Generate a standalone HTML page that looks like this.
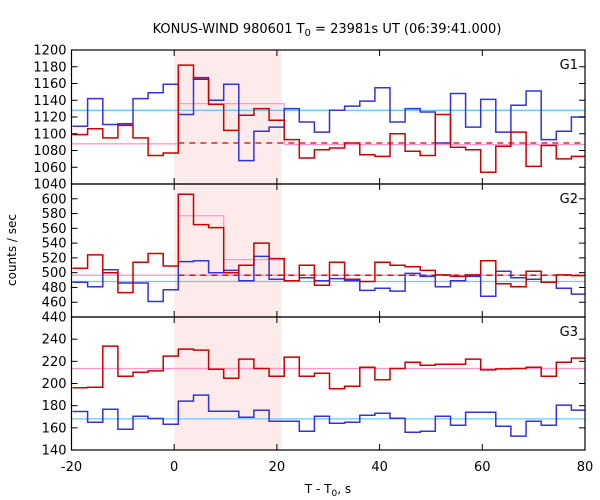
<!DOCTYPE html>
<html><head><meta charset="utf-8"><style>
body{margin:0;background:#fff;}
svg{display:block;font-family:"DejaVu Sans","Liberation Sans",sans-serif;}
</style></head><body>
<svg id="chart" width="600" height="500" viewBox="0 0 600 500" xmlns="http://www.w3.org/2000/svg">
<text x="327" y="33" text-anchor="middle" font-size="13">KONUS-WIND 980601 T<tspan font-size="10" dy="3">0</tspan><tspan dy="-3"> = 23981s UT (06:39:41.000)</tspan></text>
<text transform="translate(16,250) rotate(-90)" text-anchor="middle" font-size="12">counts / sec</text>
<text x="328" y="493" text-anchor="middle" font-size="12">T - T<tspan font-size="9" dy="3">0</tspan><tspan dy="-3">, s</tspan></text>
<g id="plot"></g>
</svg>
<script>
const xTicks=[-20,0,20,40,60,80];
const binStart=-19.8, binWidth=2.944;
const g1Blue=[1109,1142,1111,1112,1142,1149,1159,1123,1167,1140,1159,1068,1103,1108,1130,1114,1102,1128,1133,1139,1155,1114,1130,1126,1089,1148,1108,1141,1102,1134,1151,1093,1103,1120];
const g1Red=[1099,1106,1095,1110,1095,1074,1077,1182,1165,1135,1104,1122,1130,1116,1093,1071,1081,1083,1089,1075,1073,1100,1079,1074,1123,1084,1081,1054,1085,1102,1061,1086,1070,1073];
const g2Blue=[487,481,504,486,486,461,477,515,516,500,503,489,522,491,489,493,489,492,489,476,479,475,499,495,481,489,495,468,502,493,491,487,479,471];
const g2Red=[506,524,500,473,514,526,509,606,565,561,500,510,540,519,489,510,483,514,491,488,514,510,508,503,497,495,497,516,485,481,502,487,497,496];
const g3Blue=[174.7,165.1,176.8,158.8,170.5,168.4,163.3,184.1,189.5,175,175,169.6,175.9,166,166,157,170.5,164.2,165.1,171.4,173.2,168.7,156.1,157,170.5,162.4,174.1,174.1,161.5,152.5,166,162.4,180.5,176];
const g3Red=[196.1,196.7,233.7,206.6,210.2,211.4,224.7,231,230.1,212.9,204.8,222,213.5,206.6,223.8,206.6,209.3,195.2,197.6,214.7,203.3,213.5,219.2,216.5,217.4,217.4,222,212.3,213.2,213.5,214.7,206.6,219.2,222.9];
const g1Ticks=[1040,1060,1080,1100,1120,1140,1160,1180,1200];
const g2Ticks=[440,460,480,500,520,540,560,580,600];
const g3Ticks=[140,160,180,200,220,240];
const g1Levels={bg:1088,burst:1136,dashed:1089,cyan:1128};
const g2Levels={bg:496.6,burst1:577,burst2:517.6,dashed:496.6,cyan:488};
const g3Levels={pink:213.5,cyan:168.1};
const shadeRange=[0,20.9];

const NS="http://www.w3.org/2000/svg";
const plot=document.getElementById('plot');
const X0=71.5,X1=585;
function xs(t){return X0+(t+20)/100*(X1-X0);}
function mk(tag,attrs,parent){const e=document.createElementNS(NS,tag);for(const k in attrs)e.setAttribute(k,attrs[k]);(parent||plot).appendChild(e);return e;}
const panels=[
 {name:'g1',top:50,bot:184,lo:1040,hi:1200,ticks:g1Ticks,blue:g1Blue,red:g1Red,label:'G1'},
 {name:'g2',top:184,bot:317,lo:440,hi:620,ticks:g2Ticks,blue:g2Blue,red:g2Red,label:'G2'},
 {name:'g3',top:317,bot:450,lo:140,hi:260,ticks:g3Ticks,blue:g3Blue,red:g3Red,label:'G3'}];
// shading
const sh=mk('rect',{x:xs(shadeRange[0]),y:50,width:xs(shadeRange[1])-xs(shadeRange[0]),height:400,fill:'#fdeaea'});


function stepPath(vals,ys){let d='';for(let i=0;i<vals.length;i++){const a=Math.max(-20,binStart+i*binWidth),b=Math.min(80,binStart+(i+1)*binWidth);if(a>=80)break;const y=ys(vals[i]).toFixed(1);d+=(i===0?'M':'L')+xs(a).toFixed(1)+','+y+'L'+xs(b).toFixed(1)+','+y;}return d;}
function hline(t0,t1,v,ys,color,name,dash){const l=mk('line',{x1:xs(t0),x2:xs(t1),y1:ys(v),y2:ys(v),stroke:color,'stroke-width':1.3});if(dash)l.setAttribute('stroke-dasharray',dash);return l;}
const e1=binStart+7*binWidth, e2=binStart+14*binWidth, e10=binStart+10*binWidth;
panels.forEach(p=>{
 const ys=v=>p.bot-(v-p.lo)/(p.hi-p.lo)*(p.bot-p.top);
 const g=mk('g',{});
 
 
 // levels
 if(p.name==='g1'){
  hline(-20,e1,g1Levels.bg,ys,'#ff99cc','g1-background-level');
  hline(e2,80,g1Levels.bg-1,ys,'#ff99cc','g1-background-level-after');
  const b=mk('path',{d:`M${xs(e1)},${ys(g1Levels.bg)}L${xs(e1)},${ys(g1Levels.burst)}L${xs(e2)},${ys(g1Levels.burst)}L${xs(e2)},${ys(g1Levels.bg-1)}`,fill:'none',stroke:'#ff99cc','stroke-width':1.3});
  
  hline(e1,80,g1Levels.dashed,ys,'#cc0000','g1-dashed-level','6,5');
  hline(-20,80,g1Levels.cyan,ys,'#66ccff','g1-cyan-level');
 } else if(p.name==='g2'){
  hline(-20,80,g2Levels.bg,ys,'#ff99cc','g2-background-level');
  const b=mk('path',{d:`M${xs(e1)},${ys(g2Levels.bg)}L${xs(e1)},${ys(g2Levels.burst1)}L${xs(e10)},${ys(g2Levels.burst1)}L${xs(e10)},${ys(g2Levels.burst2)}L${xs(e2)},${ys(g2Levels.burst2)}L${xs(e2)},${ys(g2Levels.bg)}`,fill:'none',stroke:'#ff99cc','stroke-width':1.3});
  
  hline(e1,80,g2Levels.dashed,ys,'#cc0000','g2-dashed-level','6,5');
  hline(-20,80,g2Levels.cyan,ys,'#66ccff','g2-cyan-level');
 } else {
  hline(-20,80,g3Levels.pink,ys,'#ff99cc','g3-pink-level');
  hline(-20,80,g3Levels.cyan,ys,'#66ccff','g3-cyan-level');
 }
 const bl=mk('path',{d:stepPath(p.blue,ys),fill:'none',stroke:'#3333dd','stroke-width':1.5});
 
 
 const rd=mk('path',{d:stepPath(p.red,ys),fill:'none',stroke:'#cc0000','stroke-width':1.5});
 
 
 // frame
 const fr=mk('rect',{x:X0,y:p.top,width:X1-X0,height:p.bot-p.top,fill:'none',stroke:'#000','stroke-width':1.2});
 
 
 p.ticks.forEach(v=>{
  const y=ys(v);
  mk('line',{x1:X0,x2:X0+6,y1:y,y2:y,stroke:'#000','stroke-width':1});
  mk('line',{x1:X1-6,x2:X1,y1:y,y2:y,stroke:'#000','stroke-width':1});
  const t=mk('text',{x:X0-5,y:y+4.5,'text-anchor':'end','font-size':13});
  t.textContent=v;
  
  
 });
 xTicks.forEach(v=>{
  const x=xs(v);
  mk('line',{x1:x,x2:x,y1:p.top,y2:p.top+6,stroke:'#000','stroke-width':1});
  mk('line',{x1:x,x2:x,y1:p.bot-6,y2:p.bot,stroke:'#000','stroke-width':1});
 });
 const lb=mk('text',{x:578,y:p.top+19,'text-anchor':'end','font-size':13});
 lb.textContent=p.label;
 
 
});
xTicks.forEach(v=>{
 const t=mk('text',{x:xs(v),y:471,'text-anchor':'middle','font-size':13});
 t.textContent=v;
 
 
});
</script>
</body></html>
